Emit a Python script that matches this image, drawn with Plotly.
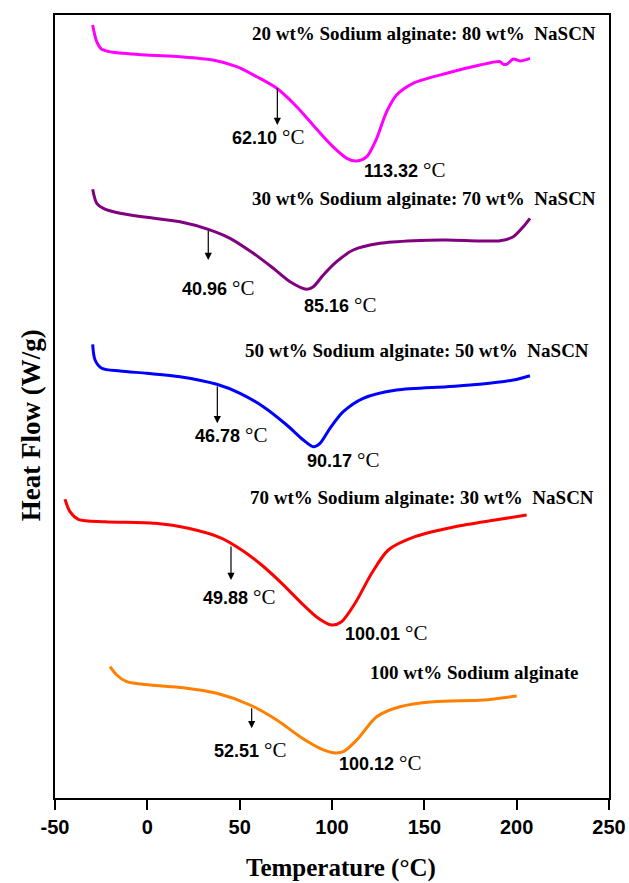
import plotly.graph_objects as go

# ---- data (Temperature in °C, heat flow in arbitrary stacked units) ----
T_20 = [-29.6, -27.4, -24.7, -18.6, -0.3, 17.7, 35.6, 48.4, 59.2, 70.1, 80.9, 89.7, 100.5,
        108.0, 113.4, 118.8, 124.2, 129.6, 135.0, 143.9, 162.1, 180.1, 191.0, 192.8, 194.6,
        198.2, 201.8, 207.2]
H_20 = [7.75, 7.583, 7.507, 7.477, 7.45, 7.433, 7.40, 7.333, 7.233, 7.117, 6.933, 6.75, 6.533,
        6.417, 6.39, 6.433, 6.617, 6.883, 7.05, 7.167, 7.267, 7.35, 7.383, 7.357, 7.357,
        7.41, 7.39, 7.417]

T_30 = [-29.6, -27.4, -23.8, -14.8, -0.3, 17.7, 33.0, 44.8, 57.4, 68.2, 77.3, 86.3, 89.9,
        95.3, 102.5, 111.5, 126.0, 144.0, 162.1, 180.1, 191.0, 198.2, 203.6, 207.2]
H_30 = [6.107, 5.967, 5.917, 5.867, 5.827, 5.783, 5.707, 5.617, 5.467, 5.317, 5.183, 5.107,
        5.133, 5.25, 5.383, 5.5, 5.567, 5.593, 5.60, 5.59, 5.593, 5.633, 5.733, 5.817]

T_50 = [-29.6, -28.3, -24.7, -14.8, -0.3, 17.7, 37.6, 50.2, 62.8, 75.5, 84.5, 89.9, 93.5,
        98.9, 106.1, 116.9, 135.0, 162.1, 180.1, 198.2, 207.2]
H_50 = [4.557, 4.40, 4.317, 4.29, 4.267, 4.233, 4.157, 4.067, 3.933, 3.75, 3.60, 3.533,
        3.567, 3.717, 3.883, 4.017, 4.10, 4.133, 4.157, 4.20, 4.243]

T_70 = [-44.6, -41.9, -37.4, -22.9, 4.2, 22.2, 40.3, 51.1, 61.9, 72.8, 83.6, 92.6, 99.8,
        105.2, 112.5, 121.5, 130.5, 144.9, 166.6, 188.3, 205.4]
H_70 = [3.007, 2.883, 2.807, 2.783, 2.767, 2.717, 2.617, 2.50, 2.35, 2.167, 1.967, 1.817,
        1.75, 1.783, 1.967, 2.267, 2.50, 2.633, 2.733, 2.80, 2.85]

T_100 = [-20.2, -16.6, -11.2, 1.4, 19.5, 37.6, 55.6, 70.1, 82.7, 93.5, 100.7, 106.1, 113.4,
         124.2, 136.8, 154.9, 181.9, 200.0]
H_100 = [1.333, 1.25, 1.183, 1.15, 1.123, 1.067, 0.95, 0.80, 0.633, 0.517, 0.473, 0.483,
         0.60, 0.833, 0.933, 0.983, 1.00, 1.04]

series_names = ["20 wt% Sodium alginate: 80 wt%  NaSCN",
                "30 wt% Sodium alginate: 70 wt%  NaSCN",
                "50 wt% Sodium alginate: 50 wt%  NaSCN",
                "70 wt% Sodium alginate: 30 wt%  NaSCN",
                "100 wt% Sodium alginate"]
series_T = [T_20, T_30, T_50, T_70, T_100]
series_H = [H_20, H_30, H_50, H_70, H_100]
colors = ["#FF00FF", "#800080", "#0000FF", "#FF0000", "#FF8000"]

# label positions (T, H)
name_label_T = [55.6, 55.6, 52.0, 54.7, 119.7]
name_label_H = [7.67, 6.02, 4.50, 3.03, 1.28]

onset_values = ["62.10", "40.96", "46.78", "49.88", "52.51"]
onset_arrow_T = [70.4, 33.0, 37.9, 45.3, 56.5]
onset_arrow_from = [7.133, 5.707, 4.15, 2.55, 0.933]
onset_arrow_to = [6.75, 5.40, 3.767, 2.20, 0.717]
onset_label_T = [44.8, 17.7, 24.9, 29.1, 34.9]
onset_label_H = [6.633, 5.117, 3.65, 2.033, 0.50]

peak_values = ["113.32", "85.16", "90.17", "100.01", "100.12"]
peak_label_T = [116.2, 83.6, 85.4, 106.1, 102.5]
peak_label_H = [6.30, 4.95, 3.40, 1.667, 0.367]

x_ticks = [-50, 0, 50, 100, 150, 200, 250]

SANS = "Liberation Sans, Arial, sans-serif"
SERIF = "Liberation Serif, Times New Roman, serif"

fig = go.Figure()
for T, H, c, n in zip(series_T, series_H, colors, series_names):
    fig.add_trace(go.Scatter(x=T, y=H, mode="lines", name=n,
                             line=dict(color=c, width=3, shape="spline", smoothing=0.8),
                             showlegend=False))

def temp_text(v):
    return ("<b>" + v + "</b> <span style='font-family:Liberation Serif;font-size:21px'>°C</span>")

ann = []
for i in range(5):
    ann.append(dict(x=name_label_T[i], y=name_label_H[i], xref="x", yref="y",
                    text="<b>" + series_names[i] + "</b>", showarrow=False,
                    xanchor="left", yanchor="middle",
                    font=dict(family=SERIF, size=19, color="black")))
    ann.append(dict(x=onset_arrow_T[i], y=onset_arrow_to[i], ax=onset_arrow_T[i],
                    ay=onset_arrow_from[i], xref="x", yref="y", axref="x", ayref="y",
                    text="", showarrow=True, arrowhead=2, arrowsize=1.2, arrowwidth=1.2,
                    arrowcolor="black"))
    ann.append(dict(x=onset_label_T[i], y=onset_label_H[i], xref="x", yref="y",
                    text=temp_text(onset_values[i]), showarrow=False,
                    xanchor="left", yanchor="middle",
                    font=dict(family=SANS, size=18, color="black")))
    ann.append(dict(x=peak_label_T[i], y=peak_label_H[i], xref="x", yref="y",
                    text=temp_text(peak_values[i]), showarrow=False,
                    xanchor="left", yanchor="middle",
                    font=dict(family=SANS, size=18, color="black")))

ann.append(dict(x=-0.0433, y=0.476, xref="paper", yref="paper", textangle=-90,
                text="<b>Heat Flow (W/g)</b>", showarrow=False,
                xanchor="center", yanchor="middle",
                font=dict(family=SERIF, size=27, color="black")))
ann.append(dict(x=0.516, y=-0.0894, xref="paper", yref="paper",
                text="<b>Temperature (°C)</b>", showarrow=False,
                xanchor="center", yanchor="middle",
                font=dict(family=SERIF, size=25, color="black")))

fig.update_layout(
    width=629, height=883,
    margin=dict(l=55, r=20, t=15, b=85, autoexpand=False),
    paper_bgcolor="white", plot_bgcolor="white",
    annotations=ann,
    xaxis=dict(range=[-50, 250], tickvals=x_ticks, ticktext=[str(v) for v in x_ticks],
               showline=True, linecolor="black", linewidth=2, mirror=True,
               ticks="outside", ticklen=10, tickwidth=2, tickcolor="black",
               showgrid=False, zeroline=False, automargin=False,
               tickfont=dict(family=SANS, size=20, color="black", weight="bold")),
    yaxis=dict(range=[0.02, 7.85], showline=True, linecolor="black", linewidth=2,
               mirror=True, ticks="", showticklabels=False, showgrid=False, zeroline=False,
               automargin=False),
)

fig.write_html("out.html")
